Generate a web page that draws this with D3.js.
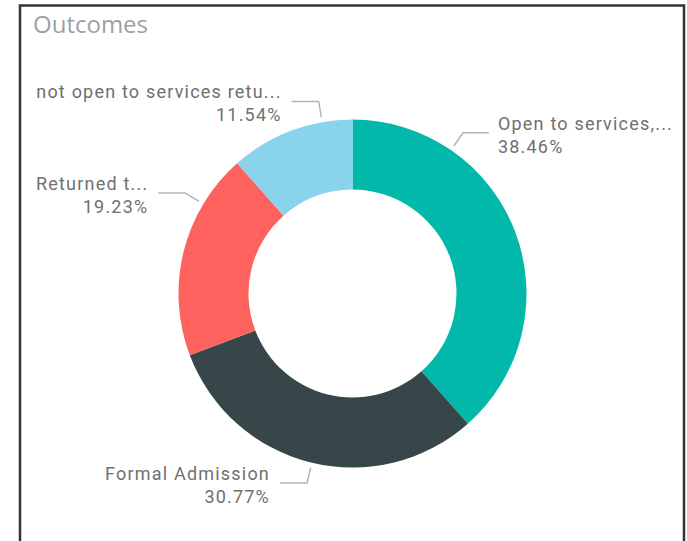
<!DOCTYPE html>
<html>
<head>
<meta charset="utf-8">
<script src="https://cdn.jsdelivr.net/npm/d3@7"></script>
<style>
  html, body { margin: 0; padding: 0; background: #fff; }
  svg { display: block; }
</style>
</head>
<body>
<div id="chart"></div>
<script>
// data
var categories = ["Open to services, no further action", "Formal Admission", "Returned to previous placement", "not open to services returned home"];
var shortLabels = ["Open to services,...", "Formal Admission", "Returned t...", "not open to services retu..."];
var counts = [10, 8, 5, 3];
var colors = ["#01B8AA", "#374649", "#FD625E", "#8AD4EB"];

var width = 687;
var height = 541;
var cx = 352.5, cy = 293.5;
var outerR = 174;
var innerR = 104;

// label anchor angles (deg, clockwise from top) - moved by hand like power bi does
var labelAngles = [34.5, 193.5, 301, 350];

var svg = d3.select("#chart").append("svg")
  .attr("width", width)
  .attr("height", height);

// frame
svg.append("rect")
  .attr("x", 20).attr("y", 5.5)
  .attr("width", 664).attr("height", 600)
  .attr("fill", "none")
  .attr("stroke", "#333")
  .attr("stroke-width", 2.5);

svg.append("text")
  .attr("x", 33).attr("y", 33)
  .attr("font-family", "'Open Sans', sans-serif")
  .attr("font-size", 24)
  .attr("fill", "#a0a0a0")
  .text("Outcomes");

var total = d3.sum(counts);
var pie = d3.pie().sort(null).value(function (d) { return d; });
var arcs = pie(counts);
var arc = d3.arc().innerRadius(innerR).outerRadius(outerR);

var g = svg.append("g").attr("transform", "translate(" + cx + "," + cy + ")");

g.selectAll("path.slice")
  .data(arcs)
  .enter()
  .append("path")
  .attr("class", "slice")
  .attr("d", arc)
  .attr("fill", function (d, i) { return colors[i]; });

// leader lines + labels
function pt(r, deg) {
  var a = deg * Math.PI / 180;
  return [r * Math.sin(a), -r * Math.cos(a)];
}

arcs.forEach(function (d, i) {
  var ang = labelAngles[i];
  var p0 = pt(outerR + 5, ang);
  var p1 = pt(outerR + 21, ang);
  var right = ang < 180;
  var p2 = [p1[0] + (right ? 26 : -27), p1[1]];

  g.append("polyline")
    .attr("points", [p0, p1, p2].map(function (p) { return p.join(","); }).join(" "))
    .attr("fill", "none")
    .attr("stroke", "#b4b4b4")
    .attr("stroke-width", 1.5);

  var tx = p2[0] + (right ? 9 : -10);
  var label = g.append("text")
    .attr("x", tx)
    .attr("y", p1[1] - 3)
    .attr("text-anchor", right ? "start" : "end")
    .attr("font-family", "Roboto, sans-serif")
    .attr("font-size", 18)
    .attr("letter-spacing", "1.2px")
    .attr("fill", "#707070");
  label.append("tspan")
    .attr("x", tx)
    .text(shortLabels[i]);
  label.append("tspan")
    .attr("x", tx)
    .attr("dy", 23)
    .text((d.value / total * 100).toFixed(2) + "%");
});
</script>
</body>
</html>
